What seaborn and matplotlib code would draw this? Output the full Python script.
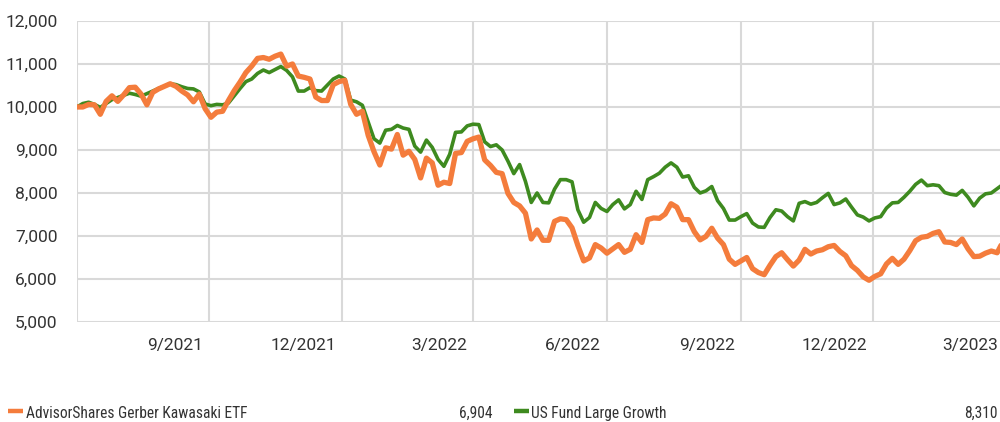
import matplotlib
matplotlib.use('Agg')
import matplotlib.pyplot as plt
import matplotlib.transforms as mtransforms
from matplotlib.lines import Line2D
import seaborn as sns
import pandas as pd

# growth of 10,000, sampled every 4 days from the picture
start = '2021-06-02'
gerber = [10000, 10000, 10060, 10050, 9830, 10130, 10260, 10130, 10280, 10450,
          10460, 10300, 10050, 10340, 10420, 10480, 10540, 10480, 10370, 10280,
          10120, 10300, 9960, 9760, 9880, 9900, 10150, 10380, 10580, 10800,
          10950, 11130, 11150, 11110, 11180, 11230, 10950, 11000, 10720, 10690,
          10650, 10230, 10150, 10150, 10520, 10590, 10620, 10060, 9830, 9900,
          9340, 8960, 8650, 9050, 9020, 9360, 8880, 8970, 8780, 8350,
          8810, 8700, 8180, 8250, 8220, 8920, 8940, 9200, 9260, 9300,
          8770, 8640, 8480, 8450, 7990, 7780, 7700, 7530, 6930, 7140,
          6900, 6900, 7340, 7400, 7380, 7190, 6780, 6420, 6490, 6800,
          6720, 6600, 6700, 6800, 6620, 6690, 7030, 6850, 7380, 7420,
          7410, 7510, 7750, 7670, 7380, 7380, 7100, 6910, 6990, 7180,
          6950, 6800, 6460, 6340, 6420, 6500, 6240, 6150, 6100, 6320,
          6520, 6610, 6450, 6300, 6440, 6690, 6580, 6650, 6680, 6750,
          6780, 6640, 6540, 6310, 6200, 6050, 5970, 6060, 6120, 6350,
          6480, 6340, 6460, 6660, 6890, 6970, 6990, 7060, 7100, 6860,
          6850, 6800, 6930, 6700, 6520, 6530, 6600, 6650, 6610, 6870,
          6904]
large_growth = [10000, 10080, 10110, 10060, 9990, 10080, 10170, 10220, 10270, 10320,
                10290, 10250, 10310, 10370, 10430, 10480, 10540, 10520, 10470, 10430,
                10420, 10350, 10070, 10030, 10060, 10050, 10090, 10260, 10430, 10590,
                10650, 10780, 10860, 10800, 10870, 10940, 10850, 10700, 10370, 10370,
                10450, 10380, 10370, 10510, 10650, 10720, 10650, 10160, 10120, 10040,
                9650, 9260, 9160, 9460, 9480, 9570, 9510, 9480, 9090, 8950,
                9230, 9060, 8780, 8620, 8900, 9410, 9420, 9560, 9600, 9590,
                9190, 9080, 9120, 9000, 8740, 8450, 8660, 8270, 7780, 8000,
                7780, 7770, 8090, 8310, 8310, 8260, 7610, 7320, 7430, 7780,
                7640, 7570, 7730, 7840, 7630, 7730, 8040, 7850, 8310, 8380,
                8460, 8600, 8700, 8600, 8370, 8400, 8130, 8000, 8050, 8150,
                7820, 7640, 7370, 7370, 7450, 7520, 7300, 7210, 7200, 7430,
                7610, 7580, 7450, 7350, 7760, 7800, 7740, 7780, 7890, 7990,
                7730, 7770, 7860, 7670, 7490, 7440, 7350, 7420, 7450, 7650,
                7770, 7780, 7900, 8040, 8200, 8300, 8170, 8190, 8170, 8010,
                7970, 7950, 8060, 7900, 7700, 7880, 7980, 8000, 8100, 8200,
                8310]

tick_dates = ['2021-06-02', '2021-09-01', '2021-12-01', '2022-03-01', '2022-06-01',
              '2022-09-01', '2022-12-01', '2023-03-01']
tick_labels = ['', '9/2021', '12/2021', '3/2022', '6/2022', '9/2022', '12/2022', '3/2023']
y_ticks = [5000, 6000, 7000, 8000, 9000, 10000, 11000, 12000]

names = ['AdvisorShares Gerber Kawasaki ETF', 'US Fund Large Growth']
final_values = ['6,904', '8,310']
orange = '#f47c3c'
green = '#3e8a1f'
grid_c = '#d9d9d9'
text_c = '#333333'

sns.set_style('white')
plt.rcParams['font.family'] = ['Roboto', 'DejaVu Sans']
leg_family = ['Roboto Condensed', 'Roboto', 'DejaVu Sans']

dates = pd.date_range(start, periods=len(gerber), freq='4D')
df = pd.DataFrame({'date': dates, 'gerber': gerber, 'growth': large_growth})

fig = plt.figure(figsize=(10, 4.22), dpi=100)
ax = fig.add_axes([0.077, 0.237, 0.9318, 0.7133])

sns.lineplot(data=df, x='date', y='growth', color=green, lw=2.6, ax=ax)
sns.lineplot(data=df, x='date', y='gerber', color=orange, lw=3.8, ax=ax)

ax.set_xlim(dates[0], dates[-1])
ax.set_ylim(5000, 12000)
ax.set_yticks(y_ticks)
ax.set_yticklabels([f'{v:,}' for v in y_ticks])
ax.set_xticks(pd.to_datetime(tick_dates))
ax.set_xticklabels(tick_labels, ha='right')
ax.set_axisbelow(True)
ax.grid(True, color=grid_c, lw=1.5)
ax.tick_params(axis='both', length=10, width=1.5, color=grid_c,
               labelsize=12.5, labelcolor=text_c)
ax.tick_params(axis='x', pad=1.5)
ax.tick_params(axis='y', pad=4)
for s in ax.spines.values():
    s.set_visible(False)
ax.set_xlabel('')
ax.set_ylabel('')

shift = mtransforms.ScaledTranslation(-0.06, 0, fig.dpi_scale_trans)
for lbl in ax.get_xticklabels():
    lbl.set_transform(lbl.get_transform() + shift)

# legend row along the bottom
y_leg = 0.0095
for x0, x1, xt, xv, c, n, v in [(0.008, 0.023, 0.026, 0.492, orange, names[0], final_values[0]),
                                (0.514, 0.529, 0.531, 0.998, green, names[1], final_values[1])]:
    fig.add_artist(Line2D([x0, x1], [0.025, 0.025], transform=fig.transFigure,
                          color=c, lw=3.2, solid_capstyle='butt'))
    fig.text(xt, y_leg, n, fontsize=11.2, color=text_c, va='baseline', family=leg_family)
    fig.text(xv, y_leg, v, fontsize=11.2, color=text_c, va='baseline', ha='right',
             family=leg_family)

fig.savefig('out.png', dpi=100)
